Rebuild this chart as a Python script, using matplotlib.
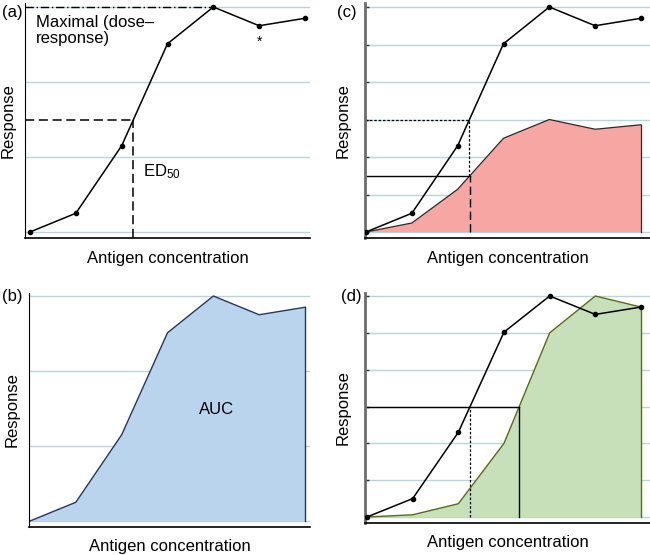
import numpy as np
import matplotlib
matplotlib.use("Agg")
import matplotlib.pyplot as plt

plt.rcParams['font.family'] = ['Liberation Sans', 'DejaVu Sans']
plt.rcParams['mathtext.fontset'] = 'custom'
plt.rcParams['mathtext.rm'] = 'Liberation Sans'
plt.rcParams['mathtext.it'] = 'Liberation Sans'

# ---- data ----
conc = [0, 1, 2, 3, 4, 5, 6]                      # antigen concentration steps
resp_dose = [0, 0.25, 1.15, 2.51, 3.0, 2.75, 2.85]   # dose-response (black)
resp_red = [0, 0.12, 0.57, 1.25, 1.5, 1.37, 1.43]    # panel (c) lower-efficacy curve
resp_green = [0, 0.03, 0.18, 1.0, 2.5, 3.0, 2.85]    # panel (d) right-shifted curve
grid_ab = [0, 1, 2, 3]
grid_cd = [0, 0.5, 1.0, 1.5, 2.0, 2.5, 3.0]

GRID_C = '#bcd3dc'
W, H = 650, 555
fig = plt.figure(figsize=(W / 100, H / 100), dpi=100)


def add_ax(left, right, top, bottom, x0px, x6px, y0px, y3px):
    ax = fig.add_axes([left / W, 1 - bottom / H, (right - left) / W, (bottom - top) / H])
    xs = (x6px - x0px) / 6.0
    ys = (y0px - y3px) / 3.0
    ax.set_xlim((left - x0px) / xs, 6 + (right - x6px) / xs)
    ax.set_ylim(-(bottom - y0px) / ys, 3 + (y3px - top) / ys)
    ax.spines['top'].set_visible(False)
    ax.spines['right'].set_visible(False)
    ax.spines['bottom'].set_linewidth(1.2)
    ax.set_xticks([])
    ax.set_yticks([])
    return ax


def common(ax, grid, label, lab_xy, xpad):
    for g in grid:
        ax.axhline(g, color=GRID_C, lw=1.0, zorder=0.5)
    ax.set_xlabel('Antigen concentration', fontsize=12, labelpad=xpad)
    ax.set_ylabel('Response', fontsize=12, labelpad=7)
    fig.text(lab_xy[0] / W, 1 - lab_xy[1] / H, label, fontsize=12, ha='left', va='center')


x = np.array(conc, dtype=float)
yb = np.array(resp_dose)
yr = np.array(resp_red)
yg = np.array(resp_green)

ed_black = np.interp(1.5, yb[:5], x[:5])
ed_red = np.interp(0.75, yr[:5], x[:5])
ed_green = np.interp(1.5, yg[:6], x[:6])

# ---- (a) ----
ax = add_ax(25, 310, 3, 238, 30, 305, 232, 7)
common(ax, grid_ab, '(a)', (2, 12), 9)
ax.plot(x, yb, color='black', lw=1.1, marker='o', ms=3, zorder=3)
ax.plot([ax.get_xlim()[0], 4], [3, 3], color='black', lw=1.0, ls=(0, (6, 2, 1, 2)), zorder=2)
ax.plot([ax.get_xlim()[0], ed_black], [1.5, 1.5], color='black', lw=1.1, ls=(0, (6, 3)), zorder=2)
ax.plot([ed_black, ed_black], [ax.get_ylim()[0], 1.5], color='black', lw=1.1, ls=(0, (6, 3)), zorder=2)
ax.text(0.13, 2.89, 'Maximal (dose–\nresponse)', fontsize=12, ha='left', va='top', linespacing=1.05)
ax.text(2.47, 0.8, 'ED$_{50}$', fontsize=12, ha='left', va='center')
ax.text(5, 2.53, '*', fontsize=10, ha='center', va='center')

# ---- (c) ----
ax = add_ax(365, 650, 3, 238, 366, 641, 232, 7)
common(ax, grid_cd, '(c)', (337, 12), 9)
ax.spines['left'].set_color('#6e6e6e')
ax.spines['left'].set_linewidth(2)
ax.set_yticks(grid_cd)
ax.set_yticklabels([])
ax.tick_params(axis='y', direction='in', length=3, width=1, color='#333333')
ax.fill_between(x, 0, yr, facecolor='#f7a7a3', edgecolor='none', zorder=1)
ax.plot(x, yr, color='#2a2a2a', lw=0.9, zorder=2)
ax.plot([6, 6], [0, yr[-1]], color='#2a2a2a', lw=0.9, zorder=2)
ax.plot(x, yb, color='black', lw=1.1, marker='o', ms=3, zorder=3)
xl = ax.get_xlim()[0]
ax.plot([xl, ed_black], [1.5, 1.5], color='black', lw=0.9, ls=(0, (2, 1.5)), zorder=2)
ax.plot([ed_black, ed_black], [0.75, 1.5], color='black', lw=0.9, ls=(0, (2, 1.5)), zorder=2)
ax.plot([xl, ed_red], [0.75, 0.75], color='black', lw=1.0, zorder=2)
ax.plot([ed_red, ed_red], [0, 0.75], color='black', lw=1.0, ls=(0, (6, 3)), zorder=2)

# ---- (b) ----
ax = add_ax(29, 310, 293, 527, 30, 305, 521, 296)
common(ax, grid_ab, '(b)', (2, 296), 9)
ax.fill_between(x, 0, yb, facecolor='#bad4ee', edgecolor='none', zorder=1)
ax.plot(x, yb, color='#26395a', lw=1.0, zorder=2)
ax.plot([6, 6], [0, yb[-1]], color='#26395a', lw=1.0, zorder=2)
ax.text(4.08, 1.48, 'AUC', fontsize=12, ha='center', va='center')

# ---- (d) ----
ax = add_ax(365, 650, 293, 523, 367, 641, 517, 296)
common(ax, grid_cd, '(d)', (341, 296), 9)
ax.spines['left'].set_color('#6e6e6e')
ax.spines['left'].set_linewidth(2)
ax.set_yticks(grid_cd)
ax.set_yticklabels([])
ax.tick_params(axis='y', direction='in', length=3, width=1, color='#333333')
ax.fill_between(x, 0, yg, facecolor='#c8e0b9', edgecolor='none', zorder=1)
ax.plot(x, yg, color='#5a6b1c', lw=1.0, zorder=2)
ax.plot([6, 6], [0, yg[-1]], color='#5a6b1c', lw=1.0, zorder=2)
ax.plot(x, yb, color='black', lw=1.1, marker='o', ms=3, zorder=3)
xl = ax.get_xlim()[0]
ax.plot([xl, ed_green], [1.5, 1.5], color='black', lw=1.0, zorder=2)
ax.plot([ed_green, ed_green], [0, 1.5], color='black', lw=1.0, zorder=2)
ax.plot([ed_black, ed_black], [0, 1.5], color='black', lw=0.9, ls=(0, (2, 1.5)), zorder=2)

fig.savefig('out.png', dpi=100)
